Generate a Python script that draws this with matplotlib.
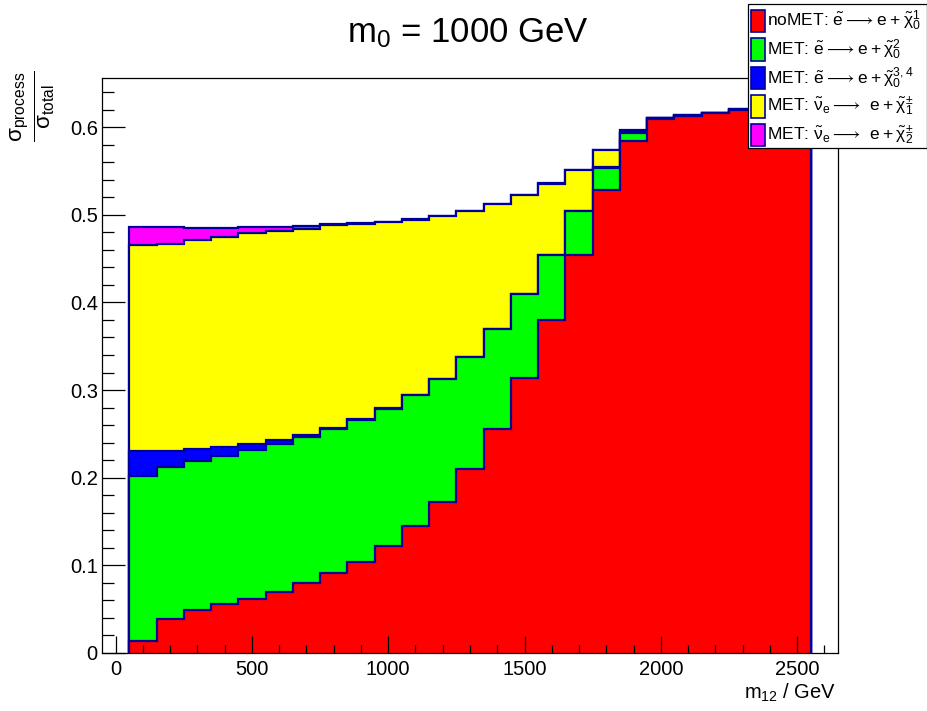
#!/usr/bin/env python
# coding:utf8
"""
m0 = 1000 GeV: stacked fractions of sigma_process / sigma_total vs m12
"""
import numpy as np
import matplotlib.pyplot as plt
from matplotlib.patches import Rectangle
from matplotlib.ticker import MultipleLocator

plt.rcParams['font.family'] = ['Liberation Sans', 'DejaVu Sans']
plt.rcParams['mathtext.default'] = 'regular'

# bin edges of m12 (GeV), 25 bins of 100 GeV
edges = np.arange(50, 2551, 100)

# per-process fractions
nomet_e_chi1 = [0.014, 0.039, 0.049, 0.056, 0.062, 0.070, 0.080, 0.091, 0.104, 0.122,
                0.145, 0.1725, 0.2094, 0.2555, 0.3137, 0.380, 0.4546, 0.528, 0.584, 0.6096,
                0.6126, 0.6157, 0.619, 0.622, 0.624]
met_e_chi2 = [0.188, 0.173, 0.170, 0.169, 0.170, 0.169, 0.166, 0.164, 0.162, 0.156,
              0.149, 0.1401, 0.1283, 0.1142, 0.0960, 0.0738, 0.0495, 0.0257, 0.0090, 0.0004,
              0.0003, 0.0003, 0.0005, 0.0003, 0.0003]
met_e_chi34 = [0.028, 0.019, 0.014, 0.010, 0.007, 0.004, 0.003, 0.002, 0.001, 0.0015,
               0.0007, 0.0004, 0.0003, 0.0003, 0.0003, 0.0002, 0.0002, 0.0003, 0.0002, 0.0001,
               0.0001, 0.0, 0.0001, 0.0001, 0.0001]
met_snu_chipm1 = [0.236, 0.236, 0.238, 0.240, 0.240, 0.239, 0.235, 0.231, 0.223, 0.212,
                  0.1998, 0.1858, 0.1659, 0.1419, 0.1129, 0.0815, 0.0465, 0.0195, 0.0028, 0.0005,
                  0.0003, 0.0003, 0.0006, 0.0003, 0.0003]
met_snu_chipm2 = [0.020, 0.019, 0.014, 0.010, 0.007, 0.004, 0.003, 0.001, 0.001, 0.0005,
                  0.0005, 0.0002, 0.0001, 0.0001, 0.0001, 0.0005, 0.0002, 0.0005, 0.0002, 0.0001,
                  0.0001, 0.0001, 0.0001, 0.0001, 0.0001]

labels = [
    r'noMET: $\tilde{e} \longrightarrow e + \tilde{\chi}^{1}_{0}$',
    r'MET: $\tilde{e} \longrightarrow e + \tilde{\chi}^{2}_{0}$',
    r'MET: $\tilde{e} \longrightarrow e + \tilde{\chi}^{3,4}_{0}$',
    r'MET: $\tilde{\nu}_{e} \longrightarrow\ e + \tilde{\chi}^{\pm}_{1}$',
    r'MET: $\tilde{\nu}_{e} \longrightarrow\ e + \tilde{\chi}^{\pm}_{2}$',
]
colors = ['#ff0000', '#00ff00', '#0000ff', '#ffff00', '#ff00ff']
line_col = '#000099'

W, H = 928, 711
fig = plt.figure(figsize=(W / 100, H / 100), dpi=100)
ax = fig.add_axes([102 / W, (H - 653) / H, (838 - 102) / W, (653 - 78) / H])

# THStack style: draw cumulative histograms from the top one down
series = [nomet_e_chi1, met_e_chi2, met_e_chi34, met_snu_chipm1, met_snu_chipm2]
cum = np.cumsum(np.array(series), axis=0)
for i in range(len(series) - 1, -1, -1):
    ax.stairs(cum[i], edges, baseline=0, fill=True, facecolor=colors[i],
              edgecolor=line_col, linewidth=1.6)

ax.set_xlim(-50, 2650)
ax.set_ylim(0, 0.656)
ax.xaxis.set_major_locator(MultipleLocator(500))
ax.xaxis.set_minor_locator(MultipleLocator(100))
ax.yaxis.set_major_locator(MultipleLocator(0.1))
ax.yaxis.set_minor_locator(MultipleLocator(0.02))
ax.yaxis.set_major_formatter(plt.FuncFormatter(lambda v, p: '0' if v == 0 else '%g' % v))
ax.tick_params(axis='both', which='both', direction='in', top=False, right=False,
               labelsize=14.5, width=0.9)
ax.tick_params(axis='x', which='major', length=12.4, pad=5)
ax.tick_params(axis='x', which='minor', length=6.1)
ax.tick_params(axis='y', which='major', length=16.6, pad=3)
ax.tick_params(axis='y', which='minor', length=8.3)
for sp in ax.spines.values():
    sp.set_linewidth(0.9)

# titles
fig.text(468 / W, 1 - 42 / H, r'$m_{0}$ = 1000 GeV', ha='center', va='baseline', fontsize=25)
fig.text(836 / W, 1 - 699 / H, r'$m_{12}$ / GeV', ha='right', va='baseline', fontsize=14.5)
fig.text(33 / W, 1 - 70 / H, r'$\frac{\sigma_{process}}{\sigma_{total}}$', rotation=90,
         ha='center', va='top', fontsize=23)

# legend box (top right corner)
def px(x, y):
    return x / W, 1 - y / H

fig.add_artist(Rectangle(px(748, 148), 179 / W, 144 / H, transform=fig.transFigure,
                         facecolor='white', edgecolor='black', linewidth=0.9))
row_y = [20.7, 49.5, 78, 106.5, 135]
for i in range(len(labels)):
    fig.add_artist(Rectangle(px(751, row_y[i] + 11), 14 / W, 22 / H, transform=fig.transFigure,
                             facecolor=colors[i], edgecolor=line_col, linewidth=1.2))
    fig.text(767 / W, 1 - row_y[i] / H, labels[i], ha='left', va='center', fontsize=12.5)

fig.savefig('out.png', dpi=100)
